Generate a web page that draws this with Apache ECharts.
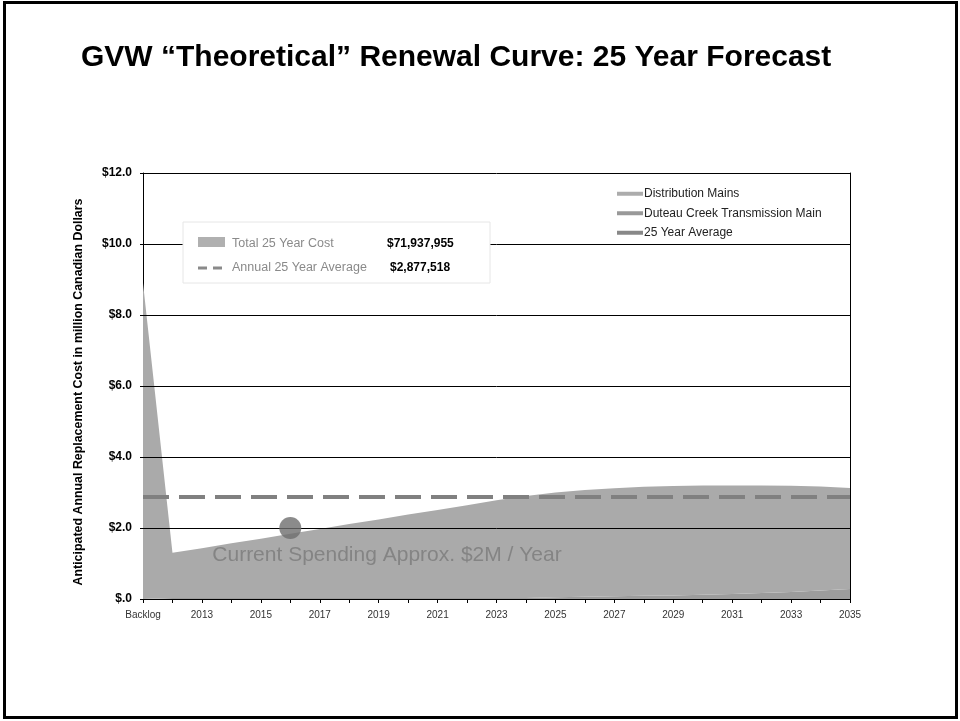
<!DOCTYPE html>
<html>
<head>
<meta charset="utf-8">
<style>
  html, body { margin: 0; padding: 0; background: #fff; }
  #chart { width: 960px; height: 721px; }
</style>
<script src="https://cdn.jsdelivr.net/npm/echarts@6/dist/echarts.min.js"></script>
</head>
<body>
<div id="chart"></div>
<script>
// Categories along the x axis: backlog bar followed by the forecast years
const years = ['Backlog', '2012', '2013', '2014', '2015', '2016', '2017', '2018', '2019', '2020',
  '2021', '2022', '2023', '2024', '2025', '2026', '2027', '2028', '2029', '2030',
  '2031', '2032', '2033', '2034', '2035'];

// Annual replacement cost, million CAD
const distributionMains = [8.90, 1.27, 1.40, 1.54, 1.67, 1.81, 1.94, 2.08, 2.21, 2.35,
  2.48, 2.61, 2.75, 2.87, 2.95, 3.01, 3.04, 3.07, 3.08, 3.08,
  3.06, 3.03, 2.99, 2.93, 2.85];
const duteauCreekMain = [0.00, 0.03, 0.03, 0.03, 0.03, 0.03, 0.03, 0.03, 0.03, 0.03,
  0.03, 0.03, 0.03, 0.03, 0.05, 0.06, 0.08, 0.09, 0.10, 0.12,
  0.14, 0.17, 0.20, 0.24, 0.28];

// 25 year summary
const annualAverage = 2.877518;
const summaryRows = [
  { label: 'Total 25 Year Cost', value: '$71,937,955' },
  { label: 'Annual 25 Year Average', value: '$2,877,518' }
];

// Current spending marker
const currentSpending = { year: '2016', value: 2.0, text: 'Current Spending Approx. $2M / Year' };

// Value axis ticks
const yTicks = [0, 2, 4, 6, 8, 10, 12];

const chart = echarts.init(document.getElementById('chart'));
const FONT = 'Liberation Sans, Arial, sans-serif';

const option = {
  animation: false,
  backgroundColor: '#fff',
  title: {
    text: 'GVW \u201cTheoretical\u201d Renewal Curve: 25 Year Forecast',
    left: 76,
    top: 38,
    textStyle: { fontFamily: FONT, fontSize: 30, fontWeight: 'bold', color: '#000' }
  },
  legend: {
    orient: 'vertical',
    left: 612,
    top: 182,
    itemWidth: 26,
    itemHeight: 4,
    itemGap: 6,
    icon: 'rect',
    textStyle: { fontFamily: FONT, fontSize: 12, color: '#222', lineHeight: 13.5, padding: [0, 0, 0, -4] },
    data: ['Distribution Mains', 'Duteau Creek Transmission Main', '25 Year Average']
  },
  grid: { left: 143, right: 110, top: 173, bottom: 122 },
  xAxis: {
    type: 'category',
    data: years,
    boundaryGap: false,
    axisLine: { lineStyle: { color: '#000', width: 1 } },
    axisTick: { show: true, interval: 0, length: 4, lineStyle: { color: '#000' } },
    axisLabel: { interval: 1, fontFamily: FONT, fontSize: 10, color: '#333', margin: 11 },
    splitLine: { show: false }
  },
  yAxis: [{
    type: 'value',
    min: 0, max: 12, interval: 2,
    name: 'Anticipated Annual Replacement Cost in million Canadian Dollars',
    nameLocation: 'middle',
    nameGap: 58,
    nameTextStyle: {
      fontFamily: FONT, fontSize: 12.4, fontWeight: 'bold', color: '#000',
      padding: [0, 12, 0, 0]
    },
    axisLine: { show: true, lineStyle: { color: '#000', width: 1 } },
    axisTick: { show: true, length: 3, lineStyle: { color: '#000' } },
    axisLabel: {
      fontFamily: FONT, fontSize: 12, fontWeight: 'bold', color: '#000', margin: 11,
      formatter: v => v === 0 ? '$.0' : '$' + v.toFixed(1)
    },
    splitLine: { show: false }
  }, {
    type: 'value',
    min: 0, max: 12, interval: 2,
    position: 'right',
    axisLine: { show: true, lineStyle: { color: '#000', width: 1 } },
    axisTick: { show: false },
    axisLabel: { show: false },
    splitLine: { show: false }
  }],
  series: [
    {
      name: 'Duteau Creek Transmission Main',
      type: 'line',
      stack: 'cost',
      data: duteauCreekMain,
      symbol: 'none',
      color: '#999999',
      lineStyle: { width: 0 },
      areaStyle: { color: '#9c9c9c', opacity: 1 },
      z: 2
    },
    {
      name: 'Distribution Mains',
      type: 'line',
      stack: 'cost',
      data: distributionMains,
      symbol: 'none',
      color: '#acacac',
      lineStyle: { width: 0 },
      areaStyle: { color: '#aaaaaa', opacity: 1 },
      z: 2
    },
    {
      // horizontal value lines drawn over the filled areas
      name: 'gridlines',
      type: 'line',
      data: [],
      silent: true,
      z: 3,
      markLine: {
        silent: true,
        symbol: 'none',
        label: { show: false },
        lineStyle: { color: '#000', width: 1, type: 'solid' },
        data: yTicks.filter(v => v > 0).map(v => ({ yAxis: v }))
      }
    },
    {
      name: '25 Year Average',
      type: 'line',
      data: [],
      color: '#888888',
      z: 4,
      markLine: {
        silent: true,
        symbol: 'none',
        label: { show: false },
        lineStyle: { color: '#808080', width: 4, type: [26, 10] },
        data: [{ yAxis: annualAverage }]
      }
    },
    {
      name: 'Current Spending',
      type: 'scatter',
      data: [[currentSpending.year, currentSpending.value]],
      symbol: 'circle',
      symbolSize: 22,
      itemStyle: { color: '#6e6e6e' },
      z: 5,
      label: {
        show: true,
        position: [-67, 38],
        align: 'left',
        verticalAlign: 'middle',
        formatter: currentSpending.text,
        fontFamily: FONT,
        fontSize: 21,
        color: '#7a7a7a'
      }
    }
  ],
  graphic: [
    // summary box
    {
      type: 'rect',
      z: 100,
      shape: { x: 183, y: 222, width: 307, height: 61 },
      style: { fill: '#fff', stroke: '#e6e6e6', lineWidth: 1 }
    },
    {
      type: 'rect',
      z: 101,
      shape: { x: 198, y: 237, width: 27, height: 10 },
      style: { fill: '#b0b0b0' }
    },
    {
      type: 'line',
      z: 101,
      shape: { x1: 198, y1: 268, x2: 224, y2: 268 },
      style: { stroke: '#8a8a8a', lineWidth: 3, lineDash: [9, 6] }
    },
    {
      type: 'text', z: 101, x: 232, y: 244,
      style: { text: summaryRows[0].label, font: '12.5px ' + FONT, fill: '#8a8a8a', textVerticalAlign: 'middle' }
    },
    {
      type: 'text', z: 101, x: 387, y: 244,
      style: { text: summaryRows[0].value, font: 'bold 12px ' + FONT, fill: '#000', textVerticalAlign: 'middle' }
    },
    {
      type: 'text', z: 101, x: 232, y: 268,
      style: { text: summaryRows[1].label, font: '12.5px ' + FONT, fill: '#8a8a8a', textVerticalAlign: 'middle' }
    },
    {
      type: 'text', z: 101, x: 390, y: 268,
      style: { text: summaryRows[1].value, font: 'bold 12px ' + FONT, fill: '#000', textVerticalAlign: 'middle' }
    },
    // slide frame
    {
      type: 'rect',
      z: 100,
      shape: { x: 4.5, y: 2.5, width: 952, height: 715 },
      style: { fill: 'none', stroke: '#000', lineWidth: 3 }
    }
  ]
};

chart.setOption(option);
</script>
</body>
</html>
